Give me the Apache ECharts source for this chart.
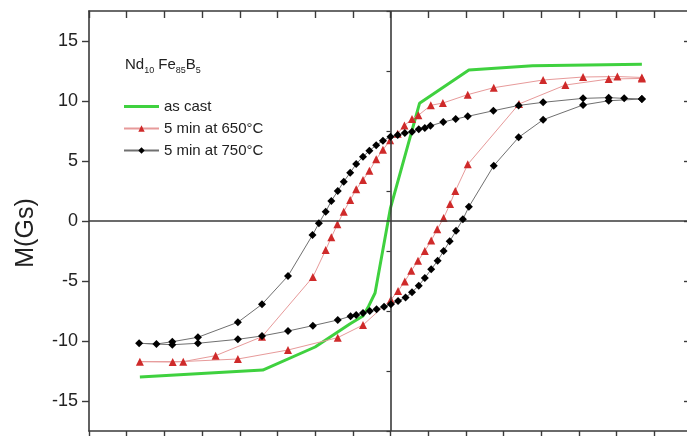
<!DOCTYPE html>
<html>
<head>
<meta charset="utf-8">
<script src="https://cdn.jsdelivr.net/npm/echarts@6/dist/echarts.min.js"></script>
<style>
  html, body { margin: 0; padding: 0; background: #fff; }
  #chart { width: 687px; height: 436px; }
</style>
</head>
<body>
<div id="chart"></div>
<script>
// Hysteresis loops of Nd10Fe85B5: applied field H (axis units) vs magnetisation M (Gs)

// Axis ranges and tick values
const xRange = [-8, 8];
const yRange = [-17.5, 17.5];
const yTicks = [-15, -10, -5, 0, 5, 10, 15];
const yMinorTicks = [-17.5, -12.5, -7.5, -2.5, 2.5, 7.5, 12.5, 17.5];

// Series names
const seriesNames = ['as cast', '5 min at 650°C', '5 min at 750°C'];

// as cast: narrow loop, drawn as a single line
const asCast = [
  [-6.65, -13.0], [-3.39, -12.42], [-2.0, -10.5], [-1.08, -8.58], [-0.73, -7.92],
  [-0.58, -7.1], [-0.41, -6.0], [0.0, 1.1], [0.77, 9.81], [2.08, 12.58],
  [3.77, 12.94], [6.67, 13.06]
];

// 5 min at 650°C: descending branch then ascending branch
const min650 = [
  [6.67, 11.96], [6.02, 12.04], [5.11, 12.0], [4.05, 11.75], [2.74, 11.11],
  [2.05, 10.53], [1.39, 9.83], [1.07, 9.64], [0.74, 8.81], [0.57, 8.5],
  [0.37, 7.96], [0.19, 7.28], [-0.01, 6.72], [-0.20, 5.94], [-0.38, 5.14],
  [-0.56, 4.19], [-0.73, 3.42], [-0.91, 2.64], [-1.07, 1.75], [-1.24, 0.78],
  [-1.41, -0.28], [-1.57, -1.36], [-1.72, -2.42], [-2.06, -4.67], [-3.41, -9.64],
  [-4.64, -11.22], [-5.50, -11.72], [-6.65, -11.72],
  [-5.78, -11.75], [-4.05, -11.5], [-2.72, -10.75], [-1.40, -9.72], [-0.73, -8.67],
  [0.01, -6.56], [0.20, -5.83], [0.38, -5.04], [0.55, -4.15], [0.73, -3.32],
  [0.91, -2.5], [1.08, -1.63], [1.24, -0.69], [1.41, 0.25], [1.58, 1.42],
  [1.72, 2.5], [2.05, 4.72], [3.41, 9.75], [4.64, 11.33], [5.79, 11.83],
  [6.67, 11.88]
];

// 5 min at 750°C: descending branch then ascending branch
const min750 = [
  [6.67, 10.17], [6.20, 10.22], [5.79, 10.28], [5.11, 10.22], [4.05, 9.89],
  [3.40, 9.63], [2.73, 9.19], [2.05, 8.72], [1.73, 8.5], [1.40, 8.25],
  [1.06, 7.93], [0.91, 7.75], [0.75, 7.65], [0.57, 7.44], [0.38, 7.33],
  [0.19, 7.17], [0.0, 7.03], [-0.20, 6.69], [-0.38, 6.31], [-0.56, 5.86],
  [-0.73, 5.36], [-0.91, 4.75], [-1.07, 4.03], [-1.24, 3.28], [-1.40, 2.5],
  [-1.57, 1.67], [-1.72, 0.78], [-1.90, -0.19], [-2.07, -1.17], [-2.72, -4.58],
  [-3.41, -6.94], [-4.05, -8.44], [-5.11, -9.69], [-5.79, -10.06], [-6.21, -10.25],
  [-6.67, -10.19],
  [-5.79, -10.31], [-5.11, -10.19], [-4.05, -9.86], [-3.41, -9.58], [-2.72, -9.17],
  [-2.06, -8.72], [-1.40, -8.25], [-1.06, -7.94], [-0.91, -7.83], [-0.73, -7.67],
  [-0.55, -7.5], [-0.37, -7.35], [-0.17, -7.14], [0.01, -6.93], [0.20, -6.67],
  [0.40, -6.38], [0.57, -5.93], [0.75, -5.39], [0.91, -4.75], [1.08, -4.03],
  [1.25, -3.31], [1.41, -2.5], [1.57, -1.69], [1.74, -0.82], [1.92, 0.14],
  [2.08, 1.18], [2.74, 4.61], [3.40, 6.97], [4.05, 8.44], [5.11, 9.67],
  [5.79, 10.02], [6.67, 10.17]
];

const frameColor = '#3a3a3a';
const textColor = '#222';
const greenColor = '#3fd13f';

const chart = echarts.init(document.getElementById('chart'), null, { renderer: 'canvas' });

const axisCommon = {
  type: 'value',
  splitLine: { show: false },
  axisLine: { show: true, onZero: false, lineStyle: { color: frameColor, width: 1.6 } }
};

chart.setOption({
  animation: false,
  backgroundColor: '#fff',
  textStyle: { fontFamily: 'Liberation Sans, Arial, sans-serif' },
  grid: { left: 89, top: 11, width: 603, height: 420, containLabel: false, outerBoundsMode: 'none' },
  title: {
    text: '{n|Nd}{s|10}{n| Fe}{s|85}{n|B}{s|5}',
    left: 125,
    top: 57,
    padding: 0,
    textStyle: {
      fontWeight: 'normal',
      rich: {
        n: { fontSize: 15, lineHeight: 18, verticalAlign: 'top', color: textColor, fontFamily: 'Liberation Sans' },
        s: { fontSize: 9, lineHeight: 16, verticalAlign: 'bottom', color: textColor, fontFamily: 'Liberation Sans' }
      }
    }
  },
  legend: {
    orient: 'vertical',
    left: 123,
    top: 99,
    padding: 0,
    itemWidth: 35,
    itemHeight: 8,
    itemGap: 7,
    textStyle: { fontSize: 15, color: textColor, fontFamily: 'Liberation Sans' },
    data: [
      // plain thick line for the curve drawn without markers
      { name: seriesNames[0], icon: 'path://M0 0H35V3H0Z', itemStyle: { color: greenColor } },
      { name: seriesNames[1] },
      { name: seriesNames[2] }
    ]
  },
  xAxis: [
    Object.assign({}, axisCommon, {
      position: 'bottom', min: xRange[0], max: xRange[1], interval: 1,
      axisTick: { show: true, inside: false, length: 7, lineStyle: { color: frameColor, width: 1.4 } },
      axisLabel: { show: false }
    }),
    Object.assign({}, axisCommon, {
      position: 'top', min: xRange[0], max: xRange[1], interval: 1,
      axisTick: { show: true, inside: true, length: 7, lineStyle: { color: frameColor, width: 1.4 } },
      axisLabel: { show: false }
    })
  ],
  yAxis: [
    Object.assign({}, axisCommon, {
      position: 'left', min: yRange[0], max: yRange[1],
      axisTick: { show: true, inside: false, length: 7, customValues: yTicks, lineStyle: { color: frameColor, width: 1.4 } },
      axisLabel: { show: true, customValues: yTicks, fontSize: 18, color: textColor, margin: 11, fontFamily: 'Liberation Sans' },
      name: 'M(Gs)',
      nameLocation: 'middle',
      nameGap: 50,
      nameTextStyle: { fontSize: 25, color: textColor, fontFamily: 'Liberation Sans', padding: [0, 24, 0, 0] }
    }),
    Object.assign({}, axisCommon, {
      position: 'left', min: yRange[0], max: yRange[1],
      axisLine: { show: false },
      axisTick: { show: true, inside: false, length: 4, customValues: yMinorTicks, lineStyle: { color: frameColor, width: 1.2 } },
      axisLabel: { show: false }
    }),
    Object.assign({}, axisCommon, {
      position: 'right', min: yRange[0], max: yRange[1],
      axisTick: { show: true, inside: true, length: 8, customValues: yTicks, lineStyle: { color: frameColor, width: 1.4 } },
      axisLabel: { show: false }
    })
  ],
  series: [
    {
      // zero lines crossing the plot
      type: 'line',
      data: [],
      z: 1,
      silent: true,
      markLine: {
        silent: true,
        symbol: 'none',
        label: { show: false },
        lineStyle: { color: frameColor, width: 1.6, type: 'solid' },
        data: [{ xAxis: 0 }, { yAxis: 0 }]
      }
    },
    {
      name: seriesNames[0],
      type: 'line',
      data: asCast,
      symbol: 'none',
      z: 3,
      lineStyle: { color: greenColor, width: 3 },
      itemStyle: { color: greenColor }
    },
    {
      name: seriesNames[1],
      type: 'line',
      data: min650,
      symbol: 'triangle',
      symbolSize: 8,
      z: 4,
      lineStyle: { color: '#e79a9a', width: 1 },
      itemStyle: { color: '#cf2a2a' }
    },
    {
      name: seriesNames[2],
      type: 'line',
      data: min750,
      symbol: 'diamond',
      symbolSize: 8,
      z: 5,
      lineStyle: { color: '#707070', width: 1 },
      itemStyle: { color: '#000' }
    }
  ]
});
</script>
</body>
</html>
